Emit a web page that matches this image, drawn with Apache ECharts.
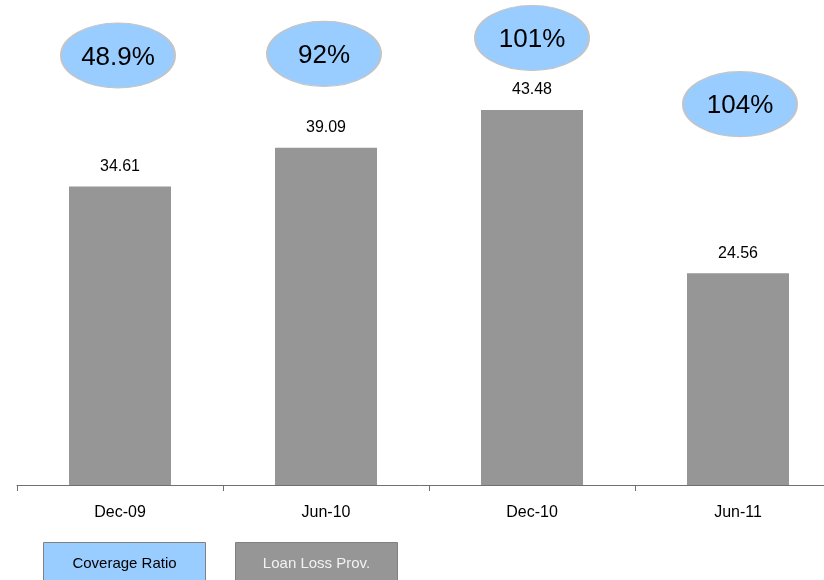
<!DOCTYPE html>
<html>
<head>
<meta charset="utf-8">
<script src="https://cdn.jsdelivr.net/npm/echarts@6/dist/echarts.min.js"></script>
<style>
  html, body { margin: 0; padding: 0; background: #fff; }
  #chart { width: 824px; height: 580px; }
</style>
</head>
<body>
<div id="chart"></div>
<script>
// Half-year periods on the x axis
const periods = ['Dec-09', 'Jun-10', 'Dec-10', 'Jun-11'];
// Loan loss provisions (bars)
const loanLossProv = [34.61, 39.09, 43.48, 24.56];
// Coverage ratio in percent (bubbles)
const coverageRatio = [48.9, 92, 101, 104];

// Vertical placement of each ratio bubble relative to its bar top (px)
const bubbleOffsetY = [-131, -94, -72, -169];
const bubbleOffsetX = [-2, -2, 0, 2];

const FONT = 'Arial, "Liberation Sans", sans-serif';
const ELLIPSE = 'path://M0,50A50,50,0,1,1,100,50A50,50,0,1,1,0,50Z';

const chart = echarts.init(document.getElementById('chart'), null, { renderer: 'canvas' });

chart.setOption({
  animation: false,
  backgroundColor: '#ffffff',
  textStyle: { fontFamily: FONT },
  // the plot runs past the right edge of the canvas
  grid: { left: 17, width: 824, top: 2, height: 483, containLabel: false, outerBoundsMode: 'none' },
  xAxis: {
    type: 'category',
    data: periods,
    boundaryGap: true,
    axisLine: { lineStyle: { color: '#707070', width: 1 } },
    axisTick: { show: true, length: 6, alignWithLabel: false, lineStyle: { color: '#707070' } },
    axisLabel: { color: '#000', fontSize: 16, margin: 20, fontFamily: FONT }
  },
  yAxis: {
    type: 'value',
    min: 0,
    max: 56,
    show: false,
    splitLine: { show: false }
  },
  series: [
    {
      name: 'Loan Loss Prov.',
      type: 'bar',
      data: loanLossProv,
      barWidth: 102,
      itemStyle: { color: '#969696' },
      label: {
        show: true,
        position: 'top',
        distance: 12,
        fontSize: 16,
        color: '#000',
        fontFamily: FONT,
        formatter: p => p.value.toFixed(2)
      },
      emphasis: { disabled: true }
    },
    {
      name: 'Coverage Ratio',
      type: 'scatter',
      z: 5,
      symbol: ELLIPSE,
      symbolSize: [114, 65],
      data: loanLossProv.map((v, i) => ({
        value: [i, v],
        ratio: coverageRatio[i],
        symbolOffset: [bubbleOffsetX[i], bubbleOffsetY[i]]
      })),
      itemStyle: { color: '#99CCFF', borderColor: '#C4C4C4', borderWidth: 1.5, opacity: 1 },
      label: {
        show: true,
        position: 'inside',
        offset: [0, 2],
        fontSize: 26,
        color: '#000',
        fontFamily: FONT,
        formatter: p => String(p.data.ratio) + '%'
      },
      emphasis: { disabled: true }
    }
  ],
  graphic: [
    {
      type: 'group',
      left: 43,
      top: 542,
      children: [
        { type: 'rect', shape: { x: 0, y: 0, width: 162, height: 42 },
          style: { fill: '#99CCFF', stroke: '#808080', lineWidth: 1 } },
        { type: 'text', x: 81, y: 21,
          style: { text: 'Coverage Ratio', fill: '#000', font: '15px ' + FONT, align: 'center', verticalAlign: 'middle' } }
      ]
    },
    {
      type: 'group',
      left: 235,
      top: 542,
      children: [
        { type: 'rect', shape: { x: 0, y: 0, width: 162, height: 42 },
          style: { fill: '#969696', stroke: '#808080', lineWidth: 1 } },
        { type: 'text', x: 81, y: 21,
          style: { text: 'Loan Loss Prov.', fill: '#f2f2f2', font: '15px ' + FONT, align: 'center', verticalAlign: 'middle' } }
      ]
    }
  ]
});
</script>
</body>
</html>
